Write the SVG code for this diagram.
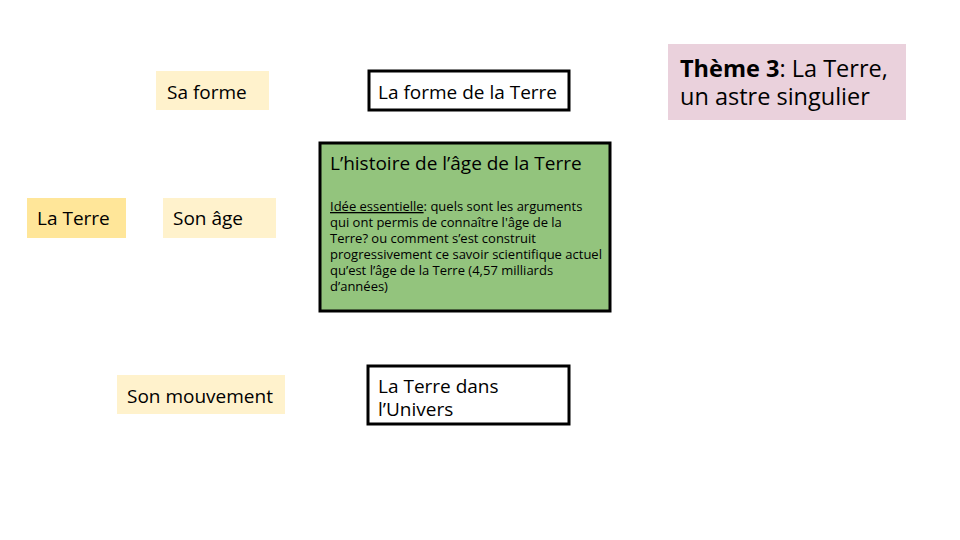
<svg xmlns="http://www.w3.org/2000/svg" width="960" height="540" viewBox="0 0 960 540">
<style>
text{font-family:"Open Sans","Noto Sans","DejaVu Sans",sans-serif;fill:#000}
.pale{fill:#FFF2CC}
.t18{font-size:19px}
.bx{fill:#fff;stroke:#000;stroke-width:3}
.body{font-size:13px}
</style>
<rect width="960" height="540" fill="#fff"/>
<g id="sa-forme"><rect class="pale" x="156" y="71" width="113" height="39"/><text class="t18" x="167" y="99">Sa forme</text></g>
<g id="la-terre"><rect fill="#FFE699" x="27" y="198" width="99" height="40"/><text class="t18" x="37" y="225">La Terre</text></g>
<g id="son-age"><rect class="pale" x="163" y="198" width="113" height="40"/><text class="t18" x="173" y="225">Son âge</text></g>
<g id="son-mouvement"><rect class="pale" x="117" y="375" width="168" height="39"/><text class="t18" x="127" y="403">Son mouvement</text></g>
<g id="forme-terre"><rect class="bx" x="369" y="71" width="200" height="39"/><text class="t18" x="378" y="99">La forme de la Terre</text></g>
<g id="histoire"><rect fill="#93C47D" stroke="#000" stroke-width="3" x="320" y="143" width="290" height="168"/>
<text class="t18" x="330" y="170">L’histoire de l’âge de la Terre</text>
<text class="body" x="330" y="211"><tspan text-decoration="underline">Idée essentielle</tspan>: quels sont les arguments</text>
<text class="body" x="330" y="227">qui ont permis de connaître l'âge de la</text>
<text class="body" x="330" y="243">Terre? ou comment s’est construit</text>
<text class="body" x="330" y="259">progressivement ce savoir scientifique actuel</text>
<text class="body" x="330" y="275">qu’est l’âge de la Terre (4,57 milliards</text>
<text class="body" x="330" y="291">d’années)</text>
</g>
<g id="terre-univers"><rect class="bx" x="368" y="366" width="201" height="58"/><text class="t18" x="378" y="393">La Terre dans</text><text class="t18" x="378" y="416">l’Univers</text></g>
<g id="theme"><rect fill="#EAD1DC" x="668" y="44" width="238" height="76"/><text font-size="23.5" x="680" y="77"><tspan font-weight="bold">Thème 3</tspan>: La Terre,</text><text font-size="23.5" x="680" y="105">un astre singulier</text></g>
<g id="connectors"/>
</svg>
